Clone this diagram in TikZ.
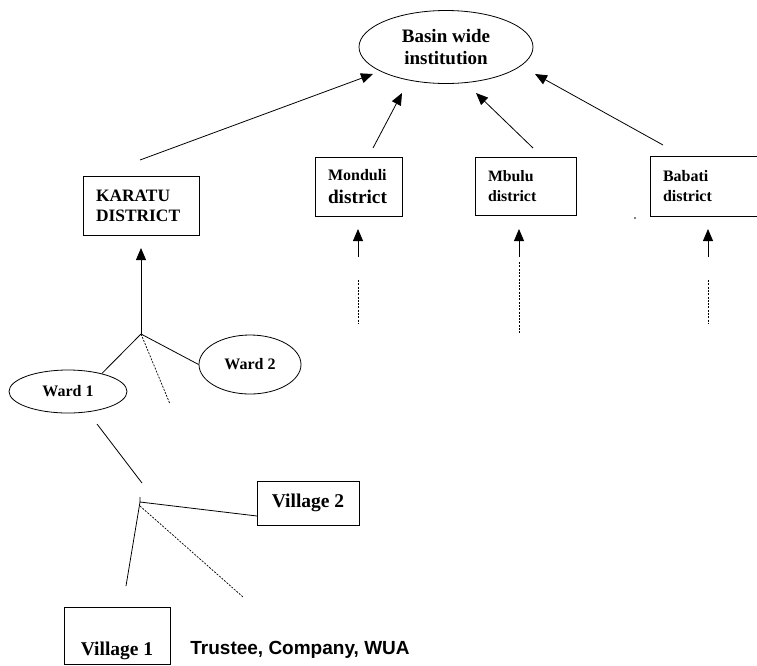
\documentclass[tikz,border=0pt]{standalone}
\usepackage{fontspec}
\setmainfont{Liberation Serif}
\newfontfamily\sansf{Liberation Sans}
\usetikzlibrary{arrows.meta,shapes.geometric}
\begin{document}
\begin{tikzpicture}[x=1pt,y=-1pt, line width=0.8pt,
  box/.style={draw, rectangle, inner ysep=0pt, inner xsep=13pt, align=left},
  cbox/.style={draw, rectangle, inner sep=0pt, align=center},
  oval/.style={draw, ellipse, inner sep=0pt, align=center},
  arr/.style={-{Triangle[length=12pt,width=10pt]}},
  dsh/.style={dash pattern=on 2pt off 1.3pt, line width=0.7pt}]
\clip (0,0) rectangle (757,665);

% top institution
\node[oval, minimum width=174pt, minimum height=73pt,
      font=\bfseries\fontsize{19}{22}\selectfont] (basin) at (446,47) {Basin wide\\institution};

% districts
\node[box, text width=90pt, minimum height=59pt,
      font=\bfseries\fontsize{17.4}{20}\selectfont] (karatu) at (141,205.5) {KARATU\\DISTRICT};
\node[box, text width=61pt, minimum height=59pt,
      font=\bfseries\fontsize{19.3}{23}\selectfont] (monduli) at (358.5,186.5)
      {{\fontsize{16}{23}\selectfont Monduli}\\district};
\node[box, text width=75pt, minimum height=58pt,
      font=\bfseries\fontsize{15.8}{20}\selectfont] (mbulu) at (525.5,186) {Mbulu\\district};
\node[box, text width=94pt, minimum height=60pt,
      font=\bfseries\fontsize{16}{20}\selectfont] (babati) at (710,186) {Babati\\district};

% wards
\node[oval, minimum width=118pt, minimum height=43pt,
      font=\bfseries\fontsize{16}{19}\selectfont] (ward1) at (68,391.5) {Ward 1};
\node[oval, minimum width=102pt, minimum height=59pt,
      font=\bfseries\fontsize{16}{19}\selectfont] (ward2) at (250,364.5) {Ward 2};

% villages
\node[cbox, minimum width=102pt, minimum height=44pt,
      font=\bfseries\fontsize{19.5}{22}\selectfont] (village2) at (308,503) {Village 2};
\node[cbox, minimum width=106pt, text height=48pt, text depth=9pt,
      font=\bfseries\fontsize{19.5}{22}\selectfont] (village1) at (117,635.5) {Village 1};

\node[anchor=base west, inner sep=0pt,
      font=\sansf\bfseries\fontsize{19}{22}\selectfont] (trustee) at (190,654) {Trustee, Company, WUA};

% coordinates for free ends
\coordinate (kA) at (140,160);  \coordinate (kT) at (373,74);
\coordinate (mA) at (373,148);  \coordinate (mT) at (402,93);
\coordinate (bA) at (533,148);  \coordinate (bT) at (476,93);
\coordinate (cA) at (663,145);  \coordinate (cT) at (535,74);

\draw[arr] (kA) -- (kT);
\draw[arr] (mA) -- (mT);
\draw[arr] (bA) -- (bT);
\draw[arr] (cA) -- (cT);

% upward arrows below districts
\coordinate (m1) at (358,257); \coordinate (m0) at (358,229);
\coordinate (m2) at (358,280); \coordinate (m3) at (358,323);
\coordinate (u1) at (519,257); \coordinate (u0) at (519,229);
\coordinate (u2) at (519,262); \coordinate (u3) at (519,333);
\coordinate (t1) at (708,257); \coordinate (t0) at (708,229);
\coordinate (t2) at (708,280); \coordinate (t3) at (708,323);
\draw[arr] (m1) -- (m0);
\draw[arr] (u1) -- (u0);
\draw[arr] (t1) -- (t0);
\draw[dsh] (m2) -- (m3);
\draw[dsh] (u2) -- (u3);
\draw[dsh] (t2) -- (t3);
\fill (635,218) circle (0.8pt);

% Karatu branch
\coordinate (j1) at (141,334);
\coordinate (kt) at (141,248);
\coordinate (d1) at (170,404);
\draw[arr] (j1) -- (kt);
\draw (j1) -- (ward1.28);
\draw (j1) -- (ward2.west);
\draw[dsh] (j1) -- (d1);

% ward 1 to villages
\coordinate (w1a) at (97,424);
\coordinate (w1b) at (142,483);
\draw (w1a) -- (w1b);
\coordinate (j2) at (140,502);
\coordinate (j2t) at (140,497);
\coordinate (v1a) at (126,586);
\coordinate (v2a) at (257,516);
\coordinate (dA) at (140,506);
\coordinate (dB) at (243,597);
\draw (j2t) -- (j2) -- (v2a);
\draw (j2) -- (v1a);
\draw[dsh] (dA) -- (dB);
\end{tikzpicture}
\end{document}
